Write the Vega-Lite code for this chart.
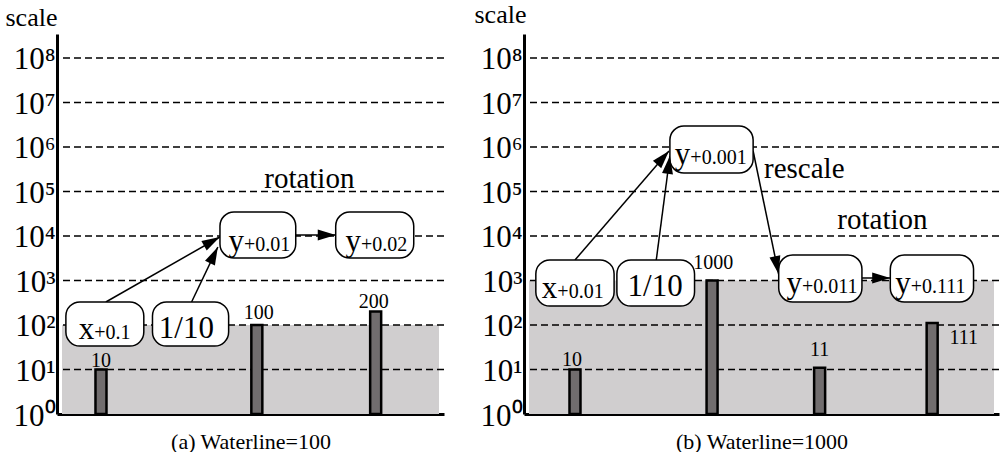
{
  "$schema": "https://vega.github.io/schema/vega-lite/v6.json",
  "autosize": {"type": "pad"},
  "padding": {"left": 5, "top": 1, "right": 0, "bottom": 0},
  "background": "white",
  "bounds": "flush",
  "spacing": 80,
  "config": {
    "view": {"stroke": null},
    "font": "Liberation Serif",
    "text": {"font": "Liberation Serif", "color": "black"},
    "axis": {
      "labelFont": "Liberation Serif", "titleFont": "Liberation Serif", "titleFontWeight": "normal",
      "labelColor": "black", "titleColor": "black", "domainColor": "black", "domainWidth": 3,
      "ticks": false, "grid": false, "zindex": 1
    }
  },
  "datasets": {
    "grid": [{"value": 10}, {"value": 100}, {"value": 1000}, {"value": 10000}, {"value": 100000}, {"value": 1000000}, {"value": 10000000}, {"value": 100000000}],
    "water_a": [{"value": 100}],
    "water_b": [{"value": 1000}],
    "bars_a": [{"pos": 10.34, "value": 10}, {"pos": 51.68, "value": 100}, {"pos": 83.2, "value": 200}],
    "bars_b": [{"pos": 9.89, "value": 10}, {"pos": 39.37, "value": 1000}, {"pos": 62.5, "value": 11}, {"pos": 86.7, "value": 111}],
    "labels_a": [{"pos": 10.34, "value": 11.4, "label": "10"}, {"pos": 52.2, "value": 136, "label": "100"}, {"pos": 82.7, "value": 241, "label": "200"}],
    "labels_b": [{"pos": 9.26, "value": 12.0, "label": "10"}, {"pos": 39.6, "value": 1812, "label": "1000"}, {"pos": 62.5, "value": 20.1, "label": "11"}, {"pos": 93.5, "value": 37.4, "label": "111"}],
    "boxes_a": [
      {"x1": 1.03, "x2": 21.7, "y1": 33.7, "y2": 329},
      {"x1": 24.0, "x2": 44.2, "y1": 33.7, "y2": 329},
      {"x1": 41.9, "x2": 62.0, "y1": 3206, "y2": 34600},
      {"x1": 72.6, "x2": 93.3, "y1": 3206, "y2": 34600}
    ],
    "boxes_b": [
      {"x1": 1.47, "x2": 18.3, "y1": 267, "y2": 2890},
      {"x1": 18.9, "x2": 35.6, "y1": 267, "y2": 2890},
      {"x1": 30.3, "x2": 48.2, "y1": 260600, "y2": 2960000},
      {"x1": 53.7, "x2": 71.6, "y1": 329, "y2": 3740},
      {"x1": 77.7, "x2": 95.6, "y1": 329, "y2": 3740}
    ],
    "boxtext_a": [
      {"pos": 8.53, "value": 48.4, "main": "x", "sub": "+0.1"},
      {"pos": 40.3, "value": 51.9, "main": "1/10", "sub": ""},
      {"pos": 48.3, "value": 4600, "main": "y", "sub": "+0.01"},
      {"pos": 79.3, "value": 4600, "main": "y", "sub": "+0.02"}
    ],
    "boxtext_b": [
      {"pos": 6.1, "value": 411, "main": "x", "sub": "+0.01"},
      {"pos": 33.05, "value": 449, "main": "1/10", "sub": ""},
      {"pos": 34.7, "value": 415000, "main": "y", "sub": "+0.001"},
      {"pos": 58.7, "value": 532, "main": "y", "sub": "+0.011"},
      {"pos": 82.1, "value": 532, "main": "y", "sub": "+0.111"}
    ],
    "arrows_a": [
      {"xs": 11.63, "ys": 328.6, "xe": 41.86, "ye": 9500, "angle": 331},
      {"xs": 34.37, "ys": 328.6, "xe": 41.34, "ye": 5660, "angle": 296},
      {"xs": 62.02, "ys": 10520, "xe": 72.61, "ye": 10520, "angle": 0}
    ],
    "arrows_b": [
      {"xs": 9.89, "ys": 2890, "xe": 30.1, "ye": 813000, "angle": 311.4},
      {"xs": 27.37, "ys": 2890, "xe": 30.3, "ye": 628000, "angle": 277.7},
      {"xs": 48.2, "ys": 813000, "xe": 53.68, "ye": 1400, "angle": 78.1},
      {"xs": 71.58, "ys": 1138, "xe": 77.68, "ye": 1138, "angle": 0}
    ],
    "notes_a": [{"pos": 65.6, "value": 120000, "text": "rotation"}],
    "notes_b": [{"pos": 59.2, "value": 201000, "text": "rescale"}, {"pos": 76.0, "value": 14360, "text": "rotation"}]
  },
  "hconcat": [
    {
      "width": 387, "height": 380,
      "layer": [
        {"data": {"name": "water_a"}, "mark": {"type": "rect", "color": "#d0cecf"},
         "encoding": {
           "x": {"datum": 0, "type": "quantitative", "scale": {"domain": [0, 100], "nice": false, "zero": false},
                 "axis": {"title": "(a) Waterline=100", "labels": false, "titleFont": "Liberation Serif", "titleFontSize": 22, "titlePadding": 17}},
           "x2": {"datum": 100},
           "y": {"field": "value", "type": "quantitative", "scale": {"type": "log", "domain": [1, 346000000], "nice": false},
                 "axis": {"title": "scale", "titleAngle": 0, "titleAlign": "left", "titleBaseline": "alphabetic", "titleX": -52, "titleY": -9,
                          "titleFont": "Liberation Serif", "titleFontSize": 26,
                          "values": [1, 10, 100, 1000, 10000, 100000, 1000000, 10000000, 100000000],
                          "labelExpr": "'10' + ['⁰','¹','²','³','⁴','⁵','⁶','⁷','⁸'][round(log(datum.value)/LN10)]",
                          "labelFont": "Liberation Serif", "labelFontSize": 31, "labelPadding": 2, "labelFlush": false, "labelOverlap": false, "labelBaseline": "middle", "labelOffset": 2}},
           "y2": {"datum": 1}}},
        {"data": {"name": "grid"}, "mark": {"type": "rule", "color": "black", "strokeWidth": 1.5, "strokeDash": [7, 4]},
         "encoding": {"y": {"field": "value", "type": "quantitative", "scale": {"type": "log", "domain": [1, 346000000], "nice": false}}}},
        {"data": {"name": "bars_a"}, "mark": {"type": "bar", "width": 11, "fill": "#716d6e", "stroke": "black", "strokeWidth": 2.5},
         "encoding": {
           "x": {"field": "pos", "type": "quantitative", "scale": {"domain": [0, 100], "nice": false, "zero": false}},
           "y": {"field": "value", "type": "quantitative", "scale": {"type": "log", "domain": [1, 346000000], "nice": false}},
           "y2": {"datum": 1}}},
        {"data": {"name": "labels_a"}, "mark": {"type": "text", "fontSize": 20, "align": "center", "baseline": "alphabetic"},
         "encoding": {"x": {"field": "pos", "type": "quantitative", "scale": {"domain": [0, 100], "nice": false, "zero": false}},
                      "y": {"field": "value", "type": "quantitative", "scale": {"type": "log", "domain": [1, 346000000], "nice": false}},
                      "text": {"field": "label"}}},
        {"data": {"name": "arrows_a"}, "mark": {"type": "rule", "color": "black", "strokeWidth": 1.5},
         "encoding": {"x": {"field": "xs", "type": "quantitative", "scale": {"domain": [0, 100], "nice": false, "zero": false}},
                      "y": {"field": "ys", "type": "quantitative", "scale": {"type": "log", "domain": [1, 346000000], "nice": false}},
                      "x2": {"field": "xe"}, "y2": {"field": "ye"}}},
        {"data": {"name": "boxes_a"}, "mark": {"type": "rect", "fill": "white", "stroke": "black", "strokeWidth": 1.5, "cornerRadius": 14},
         "encoding": {"x": {"field": "x1", "type": "quantitative", "scale": {"domain": [0, 100], "nice": false, "zero": false}},
                      "x2": {"field": "x2"},
                      "y": {"field": "y1", "type": "quantitative", "scale": {"type": "log", "domain": [1, 346000000], "nice": false}},
                      "y2": {"field": "y2"}}},
        {"data": {"name": "arrows_a"}, "mark": {"type": "point", "shape": "M0,0L-1.8,-0.55L-1.8,0.55Z", "filled": true, "color": "black", "size": 400, "opacity": 1},
         "encoding": {"x": {"field": "xe", "type": "quantitative", "scale": {"domain": [0, 100], "nice": false, "zero": false}},
                      "y": {"field": "ye", "type": "quantitative", "scale": {"type": "log", "domain": [1, 346000000], "nice": false}},
                      "angle": {"field": "angle", "type": "quantitative", "scale": null}}},
        {"data": {"name": "boxtext_a"}, "mark": {"type": "text", "fontSize": 31, "align": "right", "baseline": "alphabetic"},
         "encoding": {"x": {"field": "pos", "type": "quantitative", "scale": {"domain": [0, 100], "nice": false, "zero": false}},
                      "y": {"field": "value", "type": "quantitative", "scale": {"type": "log", "domain": [1, 346000000], "nice": false}},
                      "text": {"field": "main"}}},
        {"data": {"name": "boxtext_a"}, "mark": {"type": "text", "fontSize": 20, "align": "left", "baseline": "alphabetic"},
         "encoding": {"x": {"field": "pos", "type": "quantitative", "scale": {"domain": [0, 100], "nice": false, "zero": false}},
                      "y": {"field": "value", "type": "quantitative", "scale": {"type": "log", "domain": [1, 346000000], "nice": false}},
                      "text": {"field": "sub"}}},
        {"data": {"name": "notes_a"}, "mark": {"type": "text", "fontSize": 29, "align": "center", "baseline": "alphabetic"},
         "encoding": {"x": {"field": "pos", "type": "quantitative", "scale": {"domain": [0, 100], "nice": false, "zero": false}},
                      "y": {"field": "value", "type": "quantitative", "scale": {"type": "log", "domain": [1, 346000000], "nice": false}},
                      "text": {"field": "text"}}}
      ]
    },
    {
      "width": 475, "height": 380,
      "layer": [
        {"data": {"name": "water_b"}, "mark": {"type": "rect", "color": "#d0cecf"},
         "encoding": {
           "x": {"datum": 0, "type": "quantitative", "scale": {"domain": [0, 100], "nice": false, "zero": false},
                 "axis": {"title": "(b) Waterline=1000", "labels": false, "titleFont": "Liberation Serif", "titleFontSize": 22, "titlePadding": 17}},
           "x2": {"datum": 100},
           "y": {"field": "value", "type": "quantitative", "scale": {"type": "log", "domain": [1, 346000000], "nice": false},
                 "axis": {"title": "scale", "titleAngle": 0, "titleAlign": "left", "titleBaseline": "alphabetic", "titleX": -50, "titleY": -12,
                          "titleFont": "Liberation Serif", "titleFontSize": 26,
                          "values": [1, 10, 100, 1000, 10000, 100000, 1000000, 10000000, 100000000],
                          "labelExpr": "'10' + ['⁰','¹','²','³','⁴','⁵','⁶','⁷','⁸'][round(log(datum.value)/LN10)]",
                          "labelFont": "Liberation Serif", "labelFontSize": 31, "labelPadding": 2, "labelFlush": false, "labelOverlap": false, "labelBaseline": "middle", "labelOffset": 2}},
           "y2": {"datum": 1}}},
        {"data": {"name": "grid"}, "mark": {"type": "rule", "color": "black", "strokeWidth": 1.5, "strokeDash": [7, 4]},
         "encoding": {"y": {"field": "value", "type": "quantitative", "scale": {"type": "log", "domain": [1, 346000000], "nice": false}}}},
        {"data": {"name": "bars_b"}, "mark": {"type": "bar", "width": 11, "fill": "#716d6e", "stroke": "black", "strokeWidth": 2.5},
         "encoding": {
           "x": {"field": "pos", "type": "quantitative", "scale": {"domain": [0, 100], "nice": false, "zero": false}},
           "y": {"field": "value", "type": "quantitative", "scale": {"type": "log", "domain": [1, 346000000], "nice": false}},
           "y2": {"datum": 1}}},
        {"data": {"name": "labels_b"}, "mark": {"type": "text", "fontSize": 20, "align": "center", "baseline": "alphabetic"},
         "encoding": {"x": {"field": "pos", "type": "quantitative", "scale": {"domain": [0, 100], "nice": false, "zero": false}},
                      "y": {"field": "value", "type": "quantitative", "scale": {"type": "log", "domain": [1, 346000000], "nice": false}},
                      "text": {"field": "label"}}},
        {"data": {"name": "arrows_b"}, "mark": {"type": "rule", "color": "black", "strokeWidth": 1.5},
         "encoding": {"x": {"field": "xs", "type": "quantitative", "scale": {"domain": [0, 100], "nice": false, "zero": false}},
                      "y": {"field": "ys", "type": "quantitative", "scale": {"type": "log", "domain": [1, 346000000], "nice": false}},
                      "x2": {"field": "xe"}, "y2": {"field": "ye"}}},
        {"data": {"name": "boxes_b"}, "mark": {"type": "rect", "fill": "white", "stroke": "black", "strokeWidth": 1.5, "cornerRadius": 14},
         "encoding": {"x": {"field": "x1", "type": "quantitative", "scale": {"domain": [0, 100], "nice": false, "zero": false}},
                      "x2": {"field": "x2"},
                      "y": {"field": "y1", "type": "quantitative", "scale": {"type": "log", "domain": [1, 346000000], "nice": false}},
                      "y2": {"field": "y2"}}},
        {"data": {"name": "arrows_b"}, "mark": {"type": "point", "shape": "M0,0L-1.8,-0.55L-1.8,0.55Z", "filled": true, "color": "black", "size": 400, "opacity": 1},
         "encoding": {"x": {"field": "xe", "type": "quantitative", "scale": {"domain": [0, 100], "nice": false, "zero": false}},
                      "y": {"field": "ye", "type": "quantitative", "scale": {"type": "log", "domain": [1, 346000000], "nice": false}},
                      "angle": {"field": "angle", "type": "quantitative", "scale": null}}},
        {"data": {"name": "boxtext_b"}, "mark": {"type": "text", "fontSize": 31, "align": "right", "baseline": "alphabetic"},
         "encoding": {"x": {"field": "pos", "type": "quantitative", "scale": {"domain": [0, 100], "nice": false, "zero": false}},
                      "y": {"field": "value", "type": "quantitative", "scale": {"type": "log", "domain": [1, 346000000], "nice": false}},
                      "text": {"field": "main"}}},
        {"data": {"name": "boxtext_b"}, "mark": {"type": "text", "fontSize": 20, "align": "left", "baseline": "alphabetic"},
         "encoding": {"x": {"field": "pos", "type": "quantitative", "scale": {"domain": [0, 100], "nice": false, "zero": false}},
                      "y": {"field": "value", "type": "quantitative", "scale": {"type": "log", "domain": [1, 346000000], "nice": false}},
                      "text": {"field": "sub"}}},
        {"data": {"name": "notes_b"}, "mark": {"type": "text", "fontSize": 29, "align": "center", "baseline": "alphabetic"},
         "encoding": {"x": {"field": "pos", "type": "quantitative", "scale": {"domain": [0, 100], "nice": false, "zero": false}},
                      "y": {"field": "value", "type": "quantitative", "scale": {"type": "log", "domain": [1, 346000000], "nice": false}},
                      "text": {"field": "text"}}}
      ]
    }
  ]
}
